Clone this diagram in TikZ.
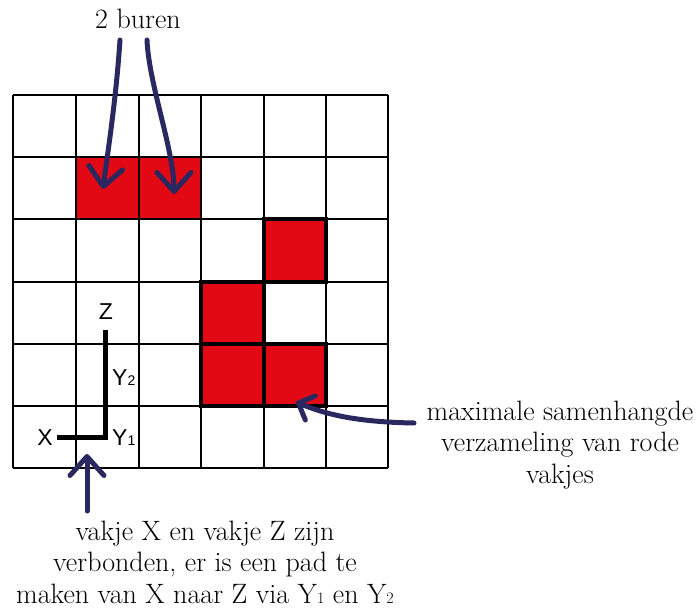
\documentclass[tikz,border=0pt]{standalone}
\usepackage{fontspec}
\newfontfamily\lblfont{Liberation Sans}
\usetikzlibrary{arrows.meta}
\definecolor{navy}{RGB}{43,40,96}
\definecolor{cellred}{RGB}{226,8,20}
\tikzset{
  gridline/.style={line width=2pt, black},
  redcell/.style={fill=cellred},
  thickcell/.style={fill=cellred, draw=black, line width=4.5pt},
  pathline/.style={line width=5pt, black},
  handarrow/.style={navy, line width=5pt, line cap=round, line join=round,
    -{Straight Barb[length=19pt, width=34pt, line width=5pt, round]}},
  smallhead/.style={navy, line width=5pt, line cap=round, line join=round,
    -{Straight Barb[length=13pt, width=26pt, line width=5pt, round]}},
  bigtext/.style={font=\fontsize{28}{31.5}\selectfont, align=center, inner sep=0pt},
  lbl/.style={font=\lblfont\fontsize{23}{23}\selectfont, inner sep=0pt}
}
\newcommand{\subd}[1]{{\fontsize{16}{16}\selectfont #1}}
\newcommand{\lsub}[1]{{\fontsize{14}{14}\selectfont #1}}
\begin{document}
\begin{tikzpicture}[x=1pt,y=-1pt]
\useasboundingbox (0,0) rectangle (699,608);
% red cells
\fill[redcell] (76,157) rectangle (139,219);
\fill[redcell] (139,157) rectangle (201,219);
% grid
\foreach \x in {13,76,139,201,264,326,388} \draw[gridline] (\x,95) -- (\x,468);
\foreach \y in {95,157,219,282,344,406,468} \draw[gridline] (13,\y) -- (388,\y);
% thick red cells
\draw[thickcell] (264,219) rectangle (326,282);
\draw[thickcell] (201,282) rectangle (264,344);
\draw[thickcell] (201,344) rectangle (264,406);
\draw[thickcell] (264,344) rectangle (326,406);
% path X -> Z
\coordinate (px) at (57,437);
\coordinate (py1) at (105,437);
\coordinate (pz) at (105,330);
\draw[pathline] (px) -- (py1) -- (pz);
\node[lbl] (X) at (45,438) {X};
\node[lbl] (Z) at (106,312) {Z};
\node[lbl, anchor=west] (Y2) at (112,378) {Y\lsub{2}};
\node[lbl, anchor=west] (Y1) at (112,438) {Y\lsub{1}};
% texts
\node[bigtext] (buren) at (138,19) {2 buren};
\node[bigtext] (maxi) at (560,445) {maximale samenhangde\\verzameling van rode\\vakjes};
\node[bigtext] (verb) at (205,562) {vakje X en vakje Z zijn\\verbonden, er is een pad te\\maken van X naar Z via Y\subd{1} en Y\subd{2}};
% arrow endpoints
\coordinate (a1s) at (120,40);
\coordinate (a1e) at (103,189);
\coordinate (a2s) at (147,40);
\coordinate (a2e) at (174,194);
\coordinate (a3s) at (414,423);
\coordinate (a3e) at (296,402);
\coordinate (a4s) at (87,511);
\coordinate (a4e) at (87,454);
\draw[handarrow] (a1s) .. controls (116,100) and (108,150) .. (a1e);
\draw[handarrow] (a2s) .. controls (149,85) and (174,150) .. (a2e);
\draw[smallhead] (a3s) .. controls (355,422) and (325,414) .. (a3e);
\draw[handarrow] (a4s) -- (a4e);
\end{tikzpicture}
\end{document}
